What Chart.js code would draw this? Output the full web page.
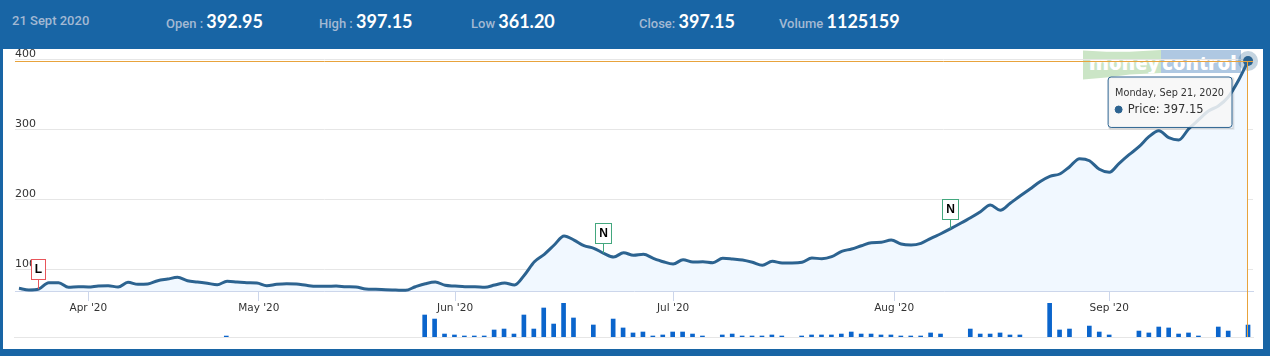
<!DOCTYPE html>
<html>
<head>
<meta charset="utf-8">
<title>Price chart</title>
<script src="https://cdn.jsdelivr.net/npm/chart.js@4"></script>
<style>
html, body { margin: 0; padding: 0; width: 1270px; height: 356px; overflow: hidden; background: #1865a5; }
#panel { position: absolute; left: 3px; top: 49px; width: 1260px; height: 300px; background: #fff; }
#header { position: absolute; left: 0; top: 0; width: 1270px; height: 49px; background: #1865a5; z-index: 5; font-family: Roboto, sans-serif; color: #a3b9d3; font-size: 13px; font-weight: 500; }
#header span { position: absolute; top: 10px; line-height: 22px; white-space: nowrap; }
#header b { font-family: Lato, sans-serif; font-size: 18px; font-weight: 700; color: #fff; }
#logo { position: absolute; left: 1083px; top: 50px; width: 158px; height: 30px; }
#logo div { position: absolute; top: 0; height: 30px; color: #fff; font: 800 20px/25px "Open Sans", sans-serif; overflow: hidden; white-space: nowrap; }
#logoGreen { left: 0; width: 78px; background: #cbe5c6; clip-path: polygon(0 2%, 30% 6%, 60% 6%, 100% 0, 100% 77%, 60% 82%, 30% 92%, 0 98%); text-indent: 6px; }
#logoBlue { left: 78px; width: 80px; background: #afc8e2; clip-path: polygon(0 0, 100% 0, 100% 77%, 0 77%); text-indent: 1px; }
canvas { position: absolute; left: 0; top: 0; }
#priceCanvas { z-index: 3; }
#volumeCanvas { z-index: 2; }
</style>
</head>
<body>
<div id="panel"></div>
<div id="header">
  <span style="left:12px">21 Sept 2020</span>
  <span style="left:166px">Open : <b>392.95</b></span>
  <span style="left:319px">High : <b>397.15</b></span>
  <span style="left:471px">Low <b>361.20</b></span>
  <span style="left:639px">Close: <b>397.15</b></span>
  <span style="left:779px">Volume <b>1125159</b></span>
</div>
<div id="logo"><div id="logoGreen">money</div><div id="logoBlue">control</div></div>
<div style="position:absolute;left:0;top:0;width:1270px;height:356px">
  <canvas id="volumeCanvas" width="1270" height="356"></canvas>
  <canvas id="priceCanvas" width="1270" height="356"></canvas>
</div>
<script>
var priceValues = [72.4,70,71.4,80.4,80.4,73.9,74.7,74.3,75.7,76.1,
  74.3,81,78.1,78.6,83.3,85.7,88.1,83.3,81.4,79.6,
  77.6,82.4,81.4,80.4,80,76.1,78.1,79,78.6,76.7,
  75.3,75.3,75.7,74.7,74.3,71.4,71,70.4,70,69.6,
  74.7,79,81.4,76.7,75.7,74.7,74.7,73.9,77.1,80,
  77.1,91.4,110.4,121,134.3,147.1,141.4,133.3,129.6,122.4,
  117.1,123.3,119.6,121,115.3,110.4,107.1,113.3,110,110.4,
  109,115.3,114.3,112.9,109.6,105.3,111,108.6,108.6,109.6,
  115.7,114.7,117.6,125.3,128.6,133.3,137.6,138.1,141.4,135.7,
  134.3,136.7,143.9,150.4,157.6,165.3,173.3,181.9,191.4,183.9,
  193.9,204.3,214.3,224.7,232.4,235.7,246.1,257.6,254.7,242.4,
  238.1,251,263.3,274.7,289,297.6,287.6,284.3,300,312.9,
  325.7,332.9,345.7,368.6,397.15];

// null where the reference shows no bar for the day
var volumeValues = [null,null,null,null,null,null,null,null,null,null,
  null,null,null,null,null,null,null,null,null,null,
  null,90000,null,null,null,null,null,null,null,null,
  null,null,null,null,null,null,null,null,null,null,
  null,2070000,1690000,280000,190000,95000,95000,95000,660000,750000,
  280000,2070000,750000,2730000,1220000,3200000,1790000,null,1130000,null,
  1690000,850000,380000,470000,95000,190000,470000,470000,280000,95000,
  null,190000,280000,95000,95000,95000,190000,95000,null,95000,
  190000,190000,190000,280000,470000,280000,280000,190000,190000,95000,
  95000,95000,380000,280000,null,null,750000,280000,280000,380000,
  190000,190000,null,null,3200000,660000,750000,null,1030000,470000,
  190000,null,null,560000,380000,940000,850000,280000,380000,95000,
  null,940000,560000,null,1125159];

var monthLabels = ["Apr '20","May '20","Jun '20","Jul '20","Aug '20","Sep '20"];
var monthTicks = [7,24.2,44,66,88.3,110];
var priceTicks = [100,200,300,400];

var flagDays = [2,59,94];
var flagLabels = ['L','N','N'];
var flagColors = ['#e8555a','#43a77e','#43a77e'];

var lastDay = priceValues.length - 1;
var hoverTitle = 'Monday, Sep 21, 2020';
var crossColor = '#e8a33c';

var xMin = -0.4, xMax = 124.5;
var chartFont = '"DejaVu Sans", sans-serif';

function toPoints(values) {
    return values.map(function(v, i) { return {x: i, y: v}; });
}

Chart.Tooltip.positioners.fixedBox = function() {
    return {x: 1229, y: 77, xAlign: 'right', yAlign: 'top'};
};

// flags and crosshair
var priceOverlay = {
    id: 'priceOverlay',
    afterDatasetsDraw: function(chart) {
        var c = chart.ctx, xs = chart.scales.x, ys = chart.scales.y;
        var px = xs.getPixelForValue(lastDay), py = ys.getPixelForValue(priceValues[lastDay]);
        c.save();
        c.strokeStyle = crossColor;
        c.lineWidth = 1;
        c.beginPath();
        c.moveTo(xs.left, Math.round(py) + 0.5);
        c.lineTo(xs.right, Math.round(py) + 0.5);
        c.moveTo(Math.round(px) - 0.5, py);
        c.lineTo(Math.round(px) - 0.5, 337);
        c.stroke();

        flagDays.forEach(function(day, k) {
            var fx = Math.round(xs.getPixelForValue(day)) - 0.5;
            var fy = ys.getPixelForValue(priceValues[day]);
            var w = flagLabels[k] == 'L' ? 14 : 16;
            var top = Math.round(fy) - 30 + 0.5;
            c.strokeStyle = flagColors[k];
            c.beginPath();
            c.moveTo(fx, top + 20);
            c.lineTo(fx, fy);
            c.stroke();
            c.fillStyle = '#fff';
            c.fillRect(fx - w / 2, top, w, 20);
            c.strokeRect(fx - w / 2, top, w, 20);
            c.fillStyle = '#000';
            c.font = 'bold 12px "Liberation Sans", sans-serif';
            c.textAlign = 'center';
            c.textBaseline = 'middle';
            c.fillText(flagLabels[k], fx, top + 10.5);
        });
        c.restore();
    },
    beforeTooltipDraw: function(chart, args) {
        var t = args.tooltip, c = chart.ctx;
        c.save();
        c.lineWidth = 1;
        c.strokeStyle = 'rgba(0,0,0,0.16)';
        c.strokeRect(t.x + 1, t.y + 1, t.width, t.height);
        c.strokeStyle = 'rgba(0,0,0,0.07)';
        c.strokeRect(t.x + 2, t.y + 2, t.width, t.height);
        c.restore();
    }
};

var priceChart = new Chart(document.getElementById('priceCanvas').getContext('2d'), {
    type: 'line',
    data: {
        datasets: [{
            data: toPoints(priceValues),
            borderColor: '#2c6390',
            borderWidth: 3,
            backgroundColor: '#f1f8ff',
            fill: 'start',
            cubicInterpolationMode: 'monotone',
            clip: false,
            pointRadius: function(ctx) { return ctx.dataIndex == lastDay ? 5 : 0; },
            pointBackgroundColor: '#2c6390',
            pointBorderColor: 'rgba(44,99,144,0.28)',
            pointBorderWidth: 10
        }]
    },
    options: {
        responsive: false,
        animation: false,
        events: [],
        layout: { padding: { left: 14, right: 17, top: 59, bottom: 35 } },
        plugins: {
            legend: { display: false },
            tooltip: {
                enabled: true,
                position: 'fixedBox',
                backgroundColor: 'rgba(247,247,247,0.86)',
                borderColor: '#2c6390',
                borderWidth: 1,
                cornerRadius: 3,
                caretSize: 0,
                caretPadding: 0,
                padding: { left: 7, right: 8, top: 11, bottom: 11 },
                titleColor: '#333',
                bodyColor: '#333',
                titleFont: { family: chartFont, size: 9.7, weight: 'normal' },
                bodyFont: { family: chartFont, size: 11.5 },
                titleMarginBottom: 3,
                displayColors: true,
                usePointStyle: true,
                boxWidth: 7,
                boxHeight: 7,
                callbacks: {
                    title: function() { return hoverTitle; },
                    label: function(ctx) { return ' Price: ' + ctx.parsed.y.toFixed(2); },
                    labelColor: function() { return { borderColor: '#2c6390', backgroundColor: '#2c6390' }; },
                    labelPointStyle: function() { return { pointStyle: 'circle', rotation: 0 }; }
                }
            }
        },
        scales: {
            x: {
                type: 'linear',
                min: xMin,
                max: xMax,
                offset: false,
                afterFit: function(s) { s.height = 30; },
                afterBuildTicks: function(s) { s.ticks = monthTicks.map(function(v) { return {value: v}; }); },
                border: { color: '#ccd6eb' },
                grid: { drawOnChartArea: false, color: '#ccd6eb', tickLength: 10 },
                ticks: {
                    autoSkip: false,
                    maxRotation: 0,
                    padding: 1,
                    color: '#333',
                    font: { family: chartFont, size: 10.5 },
                    callback: function(v) { return monthLabels[monthTicks.indexOf(v)]; }
                }
            },
            y: {
                min: 68.6,
                max: 400,
                afterFit: function(s) { s.width = 0; },
                afterBuildTicks: function(s) { s.ticks = priceTicks.map(function(v) { return {value: v}; }); },
                border: { display: false },
                grid: { color: '#e6e6e6', drawTicks: false },
                ticks: {
                    mirror: true,
                    padding: 0,
                    labelOffset: -5,
                    color: '#333',
                    font: { family: chartFont, size: 11 }
                }
            }
        }
    },
    plugins: [priceOverlay]
});

var volumeChart = new Chart(document.getElementById('volumeCanvas').getContext('2d'), {
    type: 'bar',
    data: {
        datasets: [{
            data: toPoints(volumeValues),
            backgroundColor: '#0b65cc',
            barThickness: 4
        }]
    },
    options: {
        responsive: false,
        animation: false,
        events: [],
        layout: { padding: { left: 14, right: 17, top: 303, bottom: 19 } },
        plugins: { legend: { display: false }, tooltip: { enabled: false } },
        scales: {
            x: {
                type: 'linear',
                min: xMin,
                max: xMax,
                offset: false,
                afterFit: function(s) { s.height = 0; },
                border: { color: '#e6e6e6' },
                grid: { display: false, offset: false },
                ticks: { display: false }
            },
            y: {
                min: 0,
                max: 3200000,
                afterFit: function(s) { s.width = 0; },
                border: { display: false },
                grid: { display: false },
                ticks: { display: false }
            }
        }
    }
});

priceChart.tooltip.setActiveElements([{datasetIndex: 0, index: lastDay}], {x: 1248, y: 61});
priceChart.render();
</script>
</body>
</html>
